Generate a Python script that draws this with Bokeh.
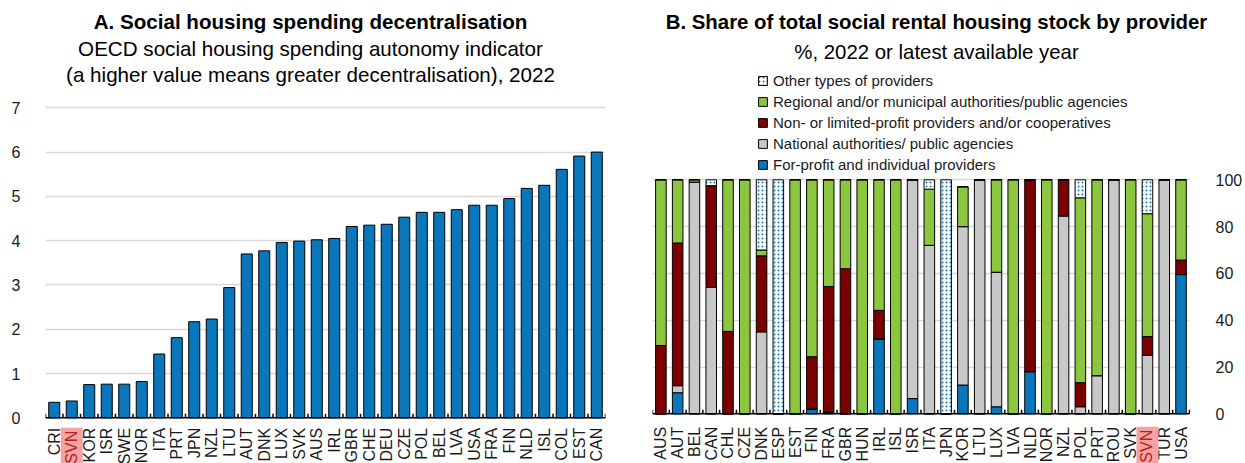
from math import pi
from bokeh.plotting import figure
from bokeh.models import (Range1d, FixedTicker, ColumnDataSource, LabelSet, Label,
                          Legend, LegendItem)
from bokeh.core.properties import value
from bokeh.layouts import row
from bokeh.transform import stack
from bokeh.embed import file_html
from bokeh.resources import INLINE

# ---------------- data ----------------
cats_a = ["CRI", "SVN", "KOR", "ISR", "SWE", "NOR", "ITA", "PRT", "JPN", "NZL", "LTU",
          "AUT", "DNK", "LUX", "SVK", "AUS", "IRL", "GBR", "CHE", "DEU", "CZE", "POL",
          "BEL", "LVA", "USA", "FRA", "FIN", "NLD", "ISL", "COL", "EST", "CAN"]
vals_a = [0.35, 0.38, 0.75, 0.76, 0.76, 0.82, 1.44, 1.81, 2.17, 2.23, 2.94,
          3.70, 3.77, 3.96, 3.99, 4.02, 4.05, 4.32, 4.35, 4.37, 4.53, 4.64,
          4.64, 4.70, 4.80, 4.80, 4.95, 5.18, 5.25, 5.61, 5.91, 6.00]

cats_b = ["AUS", "AUT", "BEL", "CAN", "CHL", "CZE", "DNK", "ESP", "EST", "FIN", "FRA",
          "GBR", "HUN", "IRL", "ISL", "ISR", "ITA", "JPN", "KOR", "LTU", "LUX", "LVA",
          "NLD", "NOR", "NZL", "POL", "PRT", "ROU", "SVK", "SVN", "TUR", "USA"]
for_profit = [0, 9, 0, 0, 0, 0, 0, 0, 0, 2, 0.8,
              0, 0, 32, 0, 6.5, 0, 0, 12.3, 0, 3, 0,
              18, 0, 0, 0, 0, 0, 0, 0, 0, 59.5]
national = [0, 3, 99, 54, 0, 0, 35, 0, 0, 0, 0,
            0, 0, 0, 0, 93.5, 72, 0, 67.7, 100, 57.5, 0,
            0, 0, 84.5, 3, 16.3, 100, 0, 25, 100, 0]
non_profit = [29.2, 61, 0, 43.5, 35.2, 0, 32.5, 0, 0, 22.4, 53.6,
              62, 0, 12.2, 0, 0, 0, 0, 0, 0, 0, 0,
              82, 0, 15.5, 10.3, 0, 0, 0, 8, 0, 6.2]
regional = [70.8, 27, 1, 0, 64.8, 100, 2.5, 0, 100, 75.6, 45.6,
            38, 100, 55.8, 100, 0, 24, 0, 17, 0, 39.5, 100,
            0, 100, 0, 79, 83.7, 0, 100, 52.5, 0, 34.3]
other = [0, 0, 0, 2.5, 0, 0, 30, 100, 0, 0, 0,
         0, 0, 0, 0, 0, 4, 100, 0, 0, 0, 0,
         0, 0, 0, 7.7, 0, 0, 0, 14.5, 0, 0]

series_names = ["For-profit and individual providers",
                "National authorities/ public agencies",
                "Non- or limited-profit providers and/or cooperatives",
                "Regional and/or municipal authorities/public agencies",
                "Other types of providers"]

title_a = ["A. Social housing spending decentralisation",
           "OECD social housing spending autonomy indicator",
           "(a higher value means greater decentralisation), 2022"]
title_b = ["B. Share of total social rental housing stock by provider",
           "%, 2022 or latest available year"]

highlight = "SVN"

# ---------------- style ----------------
FONT = "Liberation Sans"
BLUE = "#0a77bd"
GRAY = "#c8c8c8"
DRED = "#7b0000"
GREEN = "#8cc63f"
PINK = "#f4a3a3"
HL_TEXT = "#b82020"
GRID = "#d9d9d9"
TXT = "#1a1a1a"
TITLE_SIZE = "20.6px"

H = 463


def add_titles(p, lines, centers, cx, frame_bottom, size=TITLE_SIZE):
    for k, txt in enumerate(lines):
        p.add_layout(Label(x=cx, y=frame_bottom - centers[k], x_units="screen", y_units="screen",
                           text=txt, text_align="center", text_baseline="middle",
                           text_font=FONT, text_font_size=size,
                           text_font_style="bold" if k == 0 else "normal", text_color="black"))


def add_cat_axis(p, cats, px_per_unit, label_gap, frame_bottom, zero_px):
    n = len(cats)
    tick_h = 4 / px_per_unit
    # axis line and category-boundary ticks
    p.segment(x0=[-0.5], y0=[0], x1=[n - 0.5], y1=[0], line_color="black", line_width=1.5)
    bnd = [i - 0.5 for i in range(n + 1)]
    p.segment(x0=bnd, y0=[0] * len(bnd), x1=bnd, y1=[tick_h] * len(bnd),
              line_color="black", line_width=1.5)
    ys = frame_bottom - (zero_px + label_gap)
    src = ColumnDataSource(dict(x=[i for i, c in enumerate(cats) if c != highlight],
                                t=[c for c in cats if c != highlight]))
    p.add_layout(LabelSet(x="x", y=ys, y_units="screen", text="t", source=src, angle=pi / 2,
                          text_align="right", text_baseline="middle", text_font=value(FONT),
                          text_font_size=value("16px"), text_color=TXT))
    if highlight in cats:
        p.add_layout(Label(x=cats.index(highlight), y=ys, y_units="screen", text=highlight,
                           angle=pi / 2, text_align="right", text_baseline="middle",
                           text_font=FONT, text_font_size="16px", text_color=HL_TEXT,
                           background_fill_color=PINK, padding=(2, 3, 2, 3)))


def style_y(p, ticks, standoff):
    p.yaxis.ticker = FixedTicker(ticks=ticks)
    p.yaxis.axis_line_color = None
    p.yaxis.major_tick_line_color = None
    p.yaxis.minor_tick_line_color = None
    p.yaxis.major_label_standoff = standoff
    p.yaxis.major_label_text_font = FONT
    p.yaxis.major_label_text_font_size = "16px"
    p.yaxis.major_label_text_color = TXT
    p.xgrid.grid_line_color = None
    p.ygrid.grid_line_color = GRID
    p.ygrid.grid_line_width = 1.5


# ---------------- panel A ----------------
A_W, A_L, A_R = 620, 45, 15
a_zero, a_seven = 417.3, 107.3
a_ppu = (a_zero - a_seven) / 7.0
na = len(cats_a)

pa = figure(width=A_W, height=H, x_range=Range1d(-0.5, na - 0.5),
            y_range=Range1d(-(H - a_zero) / a_ppu, a_zero / a_ppu),
            x_axis_location=None, output_backend="svg", toolbar_location=None, title=None,
            min_border_left=A_L, min_border_right=A_R, min_border_top=0, min_border_bottom=0)
pa.outline_line_color = None
style_y(pa, list(range(0, 8)), 19)
src_a = ColumnDataSource(dict(x=list(range(na)), v=vals_a))
pa.vbar(x="x", top="v", width=0.63, source=src_a, fill_color=BLUE, line_color="black", line_width=1)
add_cat_axis(pa, cats_a, a_ppu, 10, H, a_zero)
add_titles(pa, title_a, [21, 48, 74], 310 - A_L, H)

# ---------------- panel B ----------------
B_W, B_L, B_R = 625, 32, 28
b_left = 620 + B_L
b_pitch = 17.05
b_zero, b_hundred = 413.3, 179.3
b_ppu = (b_zero - b_hundred) / 100.0
nb = len(cats_b)
b_frame_w = B_W - B_L - B_R

pb = figure(width=B_W, height=H, x_range=Range1d(-0.5, -0.5 + b_frame_w / b_pitch),
            y_range=Range1d(-(H - b_zero) / b_ppu, b_zero / b_ppu),
            x_axis_location=None, y_axis_location="right", output_backend="svg",
            toolbar_location=None, title=None,
            min_border_left=B_L, min_border_right=B_R, min_border_top=0, min_border_bottom=0)
pb.outline_line_color = None
style_y(pb, list(range(0, 101, 20)), 1)
pb.ygrid.cross_bounds = (-0.5, nb - 0.5)

src_b = ColumnDataSource(dict(x=list(range(nb)), fp=for_profit, nat=national, npr=non_profit,
                              reg=regional, oth=other))
keys = ["fp", "nat", "npr", "reg"]
rs = pb.vbar_stack(keys, x="x", width=0.63, source=src_b,
                   fill_color=[BLUE, GRAY, DRED, GREEN], line_color="black", line_width=1)
r_oth = pb.vbar(x="x", bottom=stack(*keys), top=stack(*(keys + ["oth"])), width=0.63, source=src_b,
                fill_color="white", line_color="black", line_width=1,
                hatch_pattern="dot", hatch_color=BLUE, hatch_scale=4, hatch_weight=1.5)
add_cat_axis(pb, cats_b, b_ppu, 13, H, b_zero)
add_titles(pb, title_b, [21, 51], 936 - b_left, H, "20.4px")

all_rs = rs + [r_oth]
items = [LegendItem(label=series_names[k], renderers=[all_rs[k]]) for k in [4, 3, 2, 1, 0]]
leg_h = 5 * 18 + 4 * 3
leg_top = 71.7
legend = Legend(items=items, location=(757 - b_left, H - (leg_top + leg_h)), orientation="vertical",
                padding=0, margin=0, spacing=3, label_height=18, glyph_height=11, glyph_width=11,
                label_standoff=5, label_text_font=FONT, label_text_font_size="15px",
                label_text_color=TXT, border_line_color=None, background_fill_alpha=0)
pb.add_layout(legend)

layout = row(pa, pb)
open("out.html", "w").write(file_html(layout, INLINE, "chart"))
